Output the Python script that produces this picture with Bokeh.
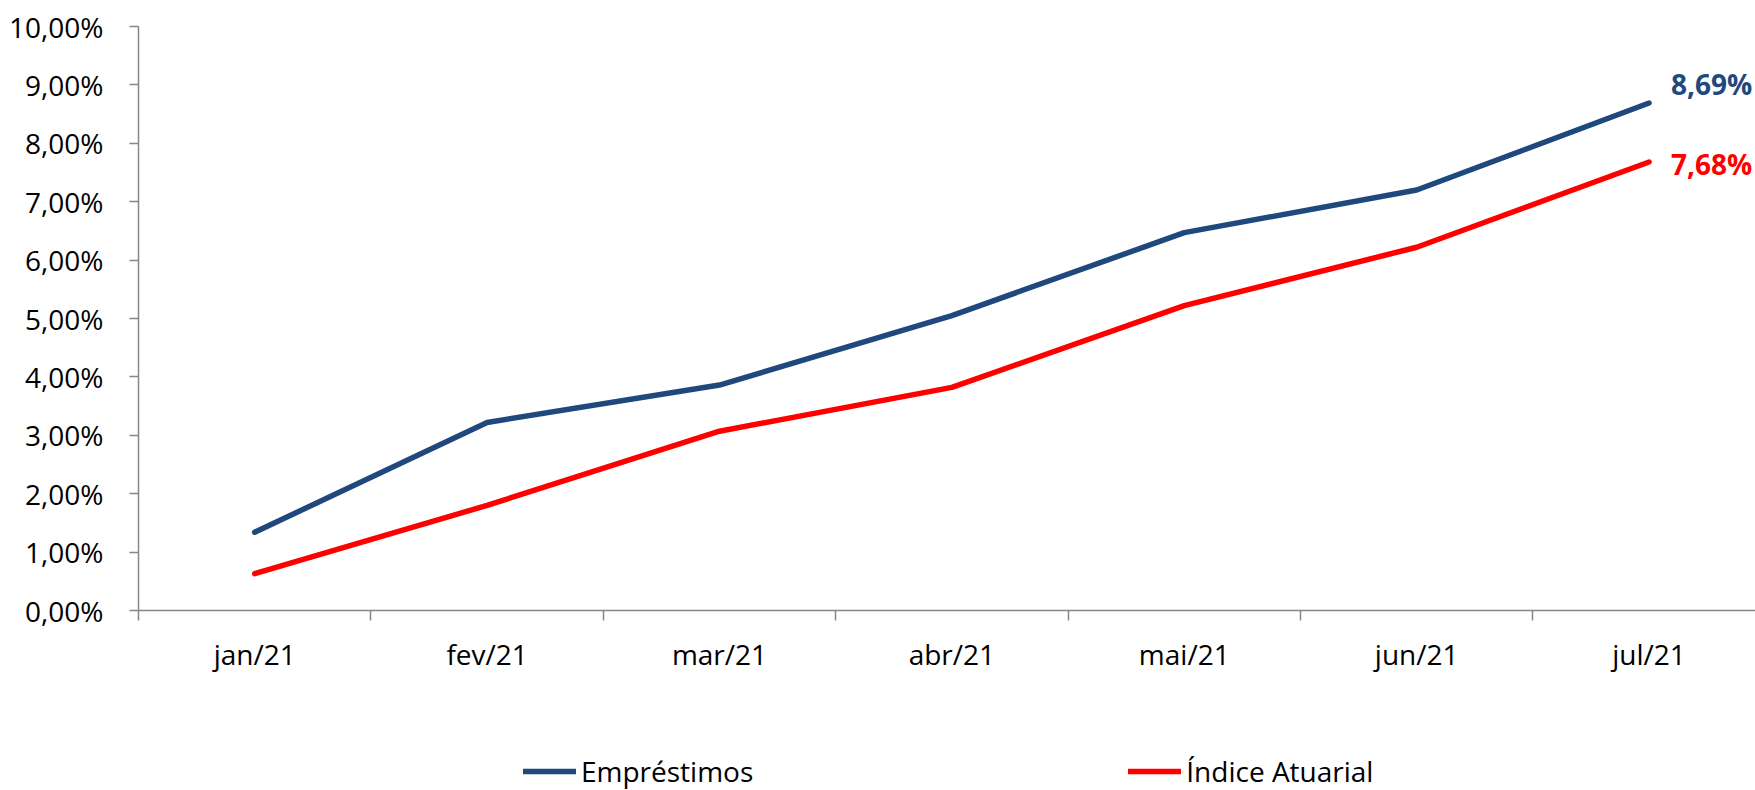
from bokeh.plotting import figure
from bokeh.models import Range1d, FixedTicker, Legend, LegendItem
from bokeh.layouts import column
from bokeh.core.properties import value
from bokeh.embed import file_html
from bokeh.resources import INLINE

months = ["jan/21", "fev/21", "mar/21", "abr/21", "mai/21", "jun/21", "jul/21"]
emprestimos = [1.34, 3.22, 3.86, 5.05, 6.47, 7.20, 8.69]
indice_atuarial = [0.63, 1.80, 3.07, 3.82, 5.22, 6.22, 7.68]
y_ticks = [0, 1, 2, 3, 4, 5, 6, 7, 8, 9, 10]
series_names = ["Empréstimos", "Índice Atuarial"]
end_labels = ["8,69%", "7,68%"]

BLUE = "#1F497D"
RED = "#FF0000"
AXIS = "#868686"
FONT = "Open Sans"
NAN = float("nan")

xs = [i + 0.5 for i in range(len(months))]

p = figure(output_backend="svg", toolbar_location=None,
           frame_width=1617, frame_height=584,
           min_border_left=138, min_border_right=0, min_border_top=26, min_border_bottom=70,
           x_range=Range1d(0, 6.958), y_range=Range1d(0, 10))
p.outline_line_color = None
p.xgrid.grid_line_color = None
p.ygrid.grid_line_color = None
p.background_fill_color = "white"
p.border_fill_color = "white"

r1 = p.line(xs, emprestimos, line_color=BLUE, line_width=5.5, line_cap="round", line_join="round")
r2 = p.line(xs, indice_atuarial, line_color=RED, line_width=5.5, line_cap="round", line_join="round")

# end labels
p.text(x=[xs[-1]], y=[emprestimos[-1]], text=[end_labels[0]], text_color=BLUE,
       text_font=value(FONT), text_font_style="bold", text_font_size="28px",
       text_align="left", text_baseline="middle", x_offset=22, y_offset=-19)
p.text(x=[xs[-1]], y=[indice_atuarial[-1]], text=[end_labels[1]], text_color=RED,
       text_font=value(FONT), text_font_style="bold", text_font_size="28px",
       text_align="left", text_baseline="middle", x_offset=22, y_offset=2)

# y axis
p.yaxis.ticker = FixedTicker(ticks=y_ticks)
p.yaxis.major_label_overrides = {t: f"{t:.2f}%".replace(".", ",") for t in y_ticks}
p.yaxis.axis_line_color = AXIS
p.yaxis.axis_line_width = 1.5
p.yaxis.major_tick_line_color = AXIS
p.yaxis.major_tick_line_width = 1.5
p.yaxis.major_tick_in = 0
p.yaxis.major_tick_out = 9
p.yaxis.minor_tick_line_color = None
p.yaxis.major_label_standoff = 26
p.yaxis.major_label_text_font = FONT
p.yaxis.major_label_text_font_size = "28px"
p.yaxis.major_label_text_color = "black"

# x axis: labels at centers, ticks at boundaries
p.xaxis.ticker = FixedTicker(ticks=xs, minor_ticks=list(range(len(months) + 1)))
p.xaxis.major_label_overrides = {x: m for x, m in zip(xs, months)}
p.xaxis.axis_line_color = AXIS
p.xaxis.axis_line_width = 1.5
p.xaxis.major_tick_line_color = None
p.xaxis.major_tick_in = 0
p.xaxis.major_tick_out = 0
p.xaxis.minor_tick_line_color = AXIS
p.xaxis.minor_tick_line_width = 1.5
p.xaxis.minor_tick_in = 0
p.xaxis.minor_tick_out = 10
p.xaxis.major_label_standoff = 14
p.xaxis.major_label_text_font = FONT
p.xaxis.major_label_text_font_size = "28px"
p.xaxis.major_label_text_color = "black"

# legend strip below the chart
lg = figure(output_backend="svg", toolbar_location=None,
            frame_width=1755, frame_height=110,
            min_border_left=0, min_border_right=0, min_border_top=0, min_border_bottom=0,
            x_range=Range1d(0, 1), y_range=Range1d(0, 1),
            x_axis_location=None, y_axis_location=None)
lg.outline_line_color = None
lg.xgrid.grid_line_color = None
lg.ygrid.grid_line_color = None
lg.border_fill_color = "white"
l1 = lg.line([NAN], [NAN], line_color=BLUE, line_width=5.5, line_cap="round")
l2 = lg.line([NAN], [NAN], line_color=RED, line_width=5.5, line_cap="round")

legend = Legend(items=[LegendItem(label=series_names[0], renderers=[l1]),
                       LegendItem(label=series_names[1], renderers=[l2])],
                location=(523, 0), orientation="horizontal",
                border_line_color=None, background_fill_alpha=0,
                padding=0, margin=0, spacing=375,
                glyph_width=53, glyph_height=20, label_standoff=5,
                label_text_font=FONT, label_text_font_size="28px",
                label_text_color="black")
lg.add_layout(legend)

layout = column(p, lg, spacing=0)
open("out.html", "w").write(file_html(layout, INLINE))
